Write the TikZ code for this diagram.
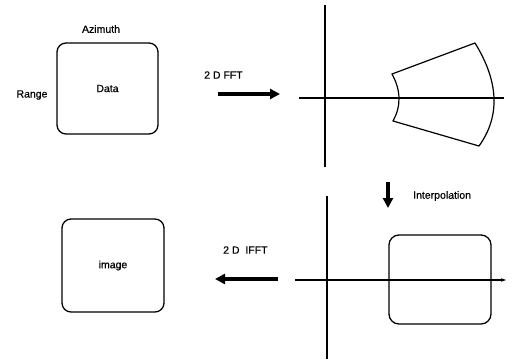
\documentclass[tikz,border=0pt]{standalone}
\usepackage{fontspec}
\setmainfont{Liberation Sans}[UprightFeatures={FakeBold=0.6}]
\usetikzlibrary{arrows.meta}
\begin{document}
\begin{tikzpicture}[x=1pt,y=-1pt,
  lbl/.style={font=\fontsize{10.5}{13}\selectfont, inner sep=0pt},
  rbox/.style={draw, line width=1.3pt, rounded corners=9pt, inner sep=0pt, font=\fontsize{10.5}{13}\selectfont},
  bigarrow/.style={line width=3.4pt, -{Triangle[length=10pt,width=10pt]}},
  axis/.style={line width=1.1pt},
  sector/.style={line width=1.2pt, line join=round}]
\useasboundingbox (0,0) rectangle (512,362);
% top-left data box
\node[rbox, minimum width=101pt, minimum height=91pt] (data) at (107.5,88.5) {Data};
\node[lbl] (az) at (101,29) {Azimuth};
\node[lbl] (rg) at (32,95) {Range};
% FFT arrow
\node[lbl, anchor=west] (fft) at (204,75) {2 D FFT};
\coordinate (fa) at (218,94);
\coordinate (fb) at (280,94);
\draw[bigarrow] (fa) -- (fb);
% top-right axes
\coordinate (v1t) at (325,5);
\coordinate (v1b) at (325,167);
\coordinate (h1l) at (299,98);
\coordinate (h1r) at (504,98);
\draw[axis] (v1t) -- (v1b);
\draw[axis] (h1l) -- (h1r);
% sector
\coordinate (it) at (392,74);
\coordinate (ib) at (393,121);
\coordinate (ot) at (475,43);
\coordinate (ob) at (479,146);
\draw[sector] (it) -- (ot) .. controls (499,82) and (500.3,116.3) .. (ob)
  -- (ib) .. controls (401.3,106) and (401,90.3) .. (it) -- cycle;
% interpolation arrow
\coordinate (da) at (388,182);
\coordinate (db) at (388,208);
\draw[bigarrow] (da) -- (db);
\node[lbl, anchor=west] (interp) at (413,196) {Interpolation};
% bottom-right axes
\coordinate (v2t) at (327,196);
\coordinate (v2b) at (327,359);
\coordinate (h2l) at (295,280);
\coordinate (h2r) at (506,280);
\draw[axis] (v2t) -- (v2b);
\draw[axis, -{Stealth[length=5pt,width=3.5pt]}] (h2l) -- (h2r);
\node[rbox, minimum width=102pt, minimum height=89pt, rounded corners=10pt] (grid) at (440,279.5) {};
% IFFT arrow
\node[lbl, anchor=west] (ifft) at (223,250) {2 D\ \ IFFT};
\coordinate (ia) at (278,279);
\coordinate (ib2) at (215,279);
\draw[bigarrow] (ia) -- (ib2);
% image box
\node[rbox, minimum width=102pt, minimum height=93pt] (img) at (113,265.5) {image};
\end{tikzpicture}
\end{document}
